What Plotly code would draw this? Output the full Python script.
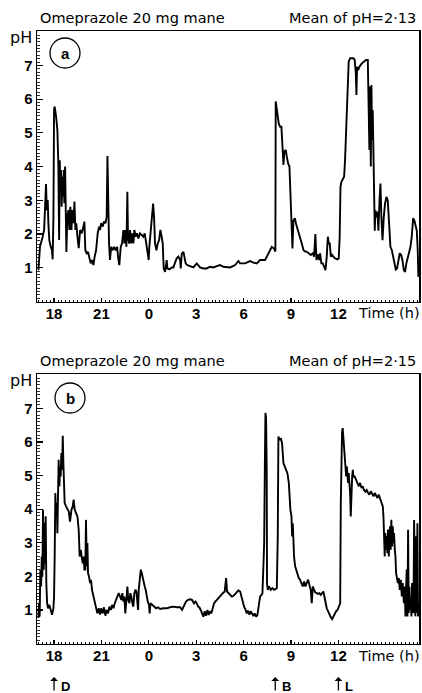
import plotly.graph_objects as go

W, H = 422, 693

# ---------------- data (time in clock hours, 24 = midnight ... 36 = noon next day) ----------------
readings_a = [
    (17.01, 0.93), (17.11, 1.63), (17.28, 1.92), (17.37, 2.12), (17.45, 3.01), (17.49, 3.48), (17.54, 2.71),
    (17.60, 3.01), (17.64, 2.32), (17.70, 1.82), (17.79, 1.62), (17.87, 1.52), (17.91, 1.25), (17.96, 2.51),
    (18.00, 5.68), (18.04, 5.78), (18.13, 5.48), (18.21, 5.08), (18.27, 4.09), (18.32, 1.82), (18.36, 4.19),
    (18.40, 3.30), (18.44, 3.90), (18.48, 2.81), (18.53, 3.70), (18.57, 3.11), (18.61, 3.90), (18.65, 2.91),
    (18.70, 4.00), (18.74, 2.12), (18.78, 1.47), (18.84, 2.51), (18.91, 2.71), (18.97, 2.12), (19.03, 2.81),
    (19.10, 2.12), (19.16, 2.71), (19.22, 2.32), (19.29, 2.96), (19.35, 2.12), (19.41, 2.32), (19.48, 1.92),
    (19.56, 1.58), (19.65, 2.12), (19.75, 2.02), (19.86, 2.22), (19.92, 2.37), (19.98, 1.52), (20.07, 1.43),
    (20.15, 1.47), (20.24, 1.23), (20.32, 1.13), (20.40, 1.23), (20.49, 1.08), (20.57, 1.33), (20.66, 1.52),
    (20.76, 2.02), (20.85, 2.22), (20.91, 2.12), (20.98, 2.32), (21.08, 2.22), (21.16, 2.37), (21.25, 2.32),
    (21.33, 2.51), (21.38, 4.31), (21.42, 2.42), (21.48, 1.72), (21.54, 1.23), (21.61, 1.62), (21.71, 1.52),
    (21.80, 1.62), (21.90, 1.52), (21.99, 1.62), (22.05, 1.33), (22.13, 1.08), (22.22, 1.62), (22.30, 1.72),
    (22.39, 2.12), (22.45, 1.72), (22.51, 2.12), (22.58, 1.62), (22.64, 3.25), (22.68, 1.92), (22.75, 1.72),
    (22.81, 2.12), (22.87, 1.72), (22.94, 2.02), (23.02, 1.72), (23.08, 2.12), (23.17, 1.92), (23.25, 2.02),
    (23.34, 1.87), (23.44, 2.02), (23.55, 1.97), (23.65, 1.92), (23.74, 2.02), (23.82, 1.72), (23.91, 1.38),
    (23.99, 1.23), (24.03, 1.62), (24.12, 2.12), (24.20, 2.51), (24.27, 2.90), (24.33, 2.51), (24.39, 1.72),
    (24.48, 1.52), (24.56, 1.72), (24.65, 1.82), (24.73, 2.12), (24.81, 1.92), (24.88, 1.72), (24.94, 0.98),
    (25.03, 0.88), (25.13, 1.23), (25.17, 0.98), (25.30, 0.95), (25.45, 1.01), (25.55, 1.01), (25.66, 1.13),
    (25.76, 1.28), (25.87, 1.33), (25.98, 1.23), (26.02, 0.98), (26.08, 1.41), (26.19, 1.47), (26.25, 1.28),
    (26.33, 1.13), (26.44, 1.08), (26.61, 1.05), (26.82, 1.01), (27.03, 1.13), (27.24, 1.01), (27.45, 0.98),
    (27.66, 0.98), (27.87, 1.03), (28.09, 1.01), (28.30, 1.05), (28.51, 1.08), (28.72, 1.03), (28.93, 1.01),
    (29.14, 1.01), (29.46, 1.08), (29.67, 1.20), (29.78, 1.13), (30.09, 1.13), (30.41, 1.20), (30.62, 1.15),
    (30.83, 1.13), (31.04, 1.23), (31.36, 1.23), (31.57, 1.43), (31.78, 1.62), (31.93, 1.57), (32.01, 1.48),
    (32.03, 5.93), (32.14, 5.58), (32.22, 5.28), (32.31, 5.18), (32.39, 5.18), (32.46, 4.59), (32.52, 4.05),
    (32.58, 4.45), (32.67, 4.49), (32.73, 4.30), (32.81, 4.10), (32.90, 4.00), (32.96, 3.30), (33.03, 2.10),
    (33.09, 1.57), (33.15, 2.40), (33.24, 2.47), (33.32, 2.30), (33.41, 2.17), (33.49, 2.00), (33.57, 1.87),
    (33.68, 1.72), (33.79, 1.52), (33.89, 1.48), (33.99, 1.48), (34.12, 1.43), (34.25, 1.38), (34.38, 1.43),
    (34.46, 1.33), (34.54, 2.00), (34.61, 1.23), (34.69, 1.40), (34.78, 1.23), (34.84, 1.43), (34.92, 1.13),
    (35.01, 1.13), (35.09, 1.01), (35.18, 0.93), (35.26, 1.33), (35.33, 1.92), (35.39, 1.72), (35.45, 1.72),
    (35.52, 1.33), (35.60, 1.38), (35.68, 1.33), (35.79, 1.28), (35.94, 1.25), (36.02, 1.28), (36.08, 1.92),
    (36.13, 3.40), (36.19, 3.55), (36.27, 3.62), (36.36, 3.70), (36.42, 4.20), (36.49, 4.98), (36.55, 5.48),
    (36.61, 6.57), (36.65, 7.11), (36.74, 7.21), (36.84, 7.21), (36.95, 7.21), (37.03, 7.16), (37.10, 6.77),
    (37.14, 6.12), (37.18, 6.96), (37.25, 6.86), (37.33, 6.96), (37.48, 7.06), (37.63, 7.11), (37.75, 7.16),
    (37.86, 7.16), (37.92, 6.07), (37.96, 4.49), (38.00, 6.37), (38.05, 4.00), (38.09, 6.42), (38.13, 4.79),
    (38.17, 5.68), (38.22, 3.90), (38.26, 3.10), (38.30, 2.10), (38.34, 2.70), (38.38, 2.50), (38.47, 2.66),
    (38.53, 2.10), (38.60, 3.00), (38.66, 3.50), (38.72, 2.50), (38.79, 1.82), (38.87, 2.50), (38.95, 2.90),
    (39.04, 3.10), (39.12, 3.00), (39.21, 2.30), (39.29, 1.62), (39.38, 1.52), (39.46, 1.33), (39.55, 1.03),
    (39.63, 0.95), (39.71, 0.98), (39.80, 1.23), (39.88, 1.43), (39.97, 1.38), (40.05, 1.23), (40.14, 0.93),
    (40.22, 0.88), (40.30, 1.13), (40.39, 1.33), (40.47, 1.52), (40.56, 1.62), (40.64, 1.92), (40.73, 2.47),
    (40.81, 2.40), (40.90, 2.20), (40.96, 2.10), (41.02, 1.52), (41.06, 0.73),
]

readings_b = [
    (17.01, 0.76), (17.05, 1.21), (17.09, 0.81), (17.13, 2.20), (17.18, 1.70), (17.22, 2.59), (17.26, 2.00),
    (17.30, 3.98), (17.35, 2.20), (17.39, 3.59), (17.43, 2.39), (17.47, 3.79), (17.51, 1.80), (17.56, 1.20),
    (17.62, 1.05), (17.70, 1.15), (17.79, 1.00), (17.87, 0.86), (17.96, 1.05), (18.00, 1.40), (18.04, 2.59),
    (18.08, 4.48), (18.13, 3.79), (18.17, 4.18), (18.21, 3.28), (18.25, 4.88), (18.29, 5.47), (18.34, 4.68),
    (18.38, 5.27), (18.42, 4.97), (18.46, 5.67), (18.51, 5.17), (18.55, 6.18), (18.59, 5.37), (18.63, 4.78),
    (18.67, 4.18), (18.76, 4.08), (18.84, 3.98), (18.93, 3.93), (19.01, 3.63), (19.10, 3.98), (19.18, 4.08),
    (19.24, 4.28), (19.31, 3.98), (19.39, 3.88), (19.48, 3.78), (19.56, 3.38), (19.62, 2.59), (19.69, 2.79),
    (19.75, 2.49), (19.81, 2.39), (19.88, 2.59), (19.92, 2.20), (19.98, 2.20), (20.02, 3.68), (20.07, 2.30),
    (20.11, 2.99), (20.15, 2.10), (20.21, 2.00), (20.28, 1.80), (20.34, 1.90), (20.40, 1.60), (20.49, 1.40),
    (20.57, 1.20), (20.66, 1.00), (20.74, 0.90), (20.83, 1.05), (20.91, 0.86), (20.98, 1.05), (21.08, 0.90),
    (21.16, 1.08), (21.25, 0.83), (21.33, 1.00), (21.42, 0.90), (21.50, 1.10), (21.59, 1.00), (21.67, 1.15),
    (21.76, 1.05), (21.84, 1.20), (21.92, 1.30), (22.01, 1.42), (22.09, 1.50), (22.18, 1.40), (22.26, 1.30),
    (22.32, 1.50), (22.39, 1.25), (22.45, 1.40), (22.51, 0.90), (22.58, 1.30), (22.64, 1.70), (22.70, 1.30),
    (22.77, 1.20), (22.83, 1.50), (22.89, 1.40), (22.96, 1.20), (23.02, 1.10), (23.08, 1.50), (23.15, 1.60),
    (23.21, 1.55), (23.27, 1.20), (23.32, 1.00), (23.36, 1.60), (23.42, 2.00), (23.49, 2.20), (23.55, 2.10),
    (23.61, 1.95), (23.67, 1.80), (23.74, 1.70), (23.80, 1.60), (23.87, 1.40), (23.93, 1.25), (24.01, 1.15),
    (24.05, 0.90), (24.10, 1.20), (24.20, 1.15), (24.33, 1.10), (24.46, 1.05), (24.58, 1.08), (24.71, 1.03),
    (24.92, 1.05), (25.13, 1.05), (25.34, 1.08), (25.55, 1.10), (25.76, 1.08), (25.98, 1.08), (26.10, 1.00),
    (26.23, 1.15), (26.35, 1.25), (26.48, 1.30), (26.61, 1.32), (26.73, 1.30), (26.86, 1.20), (26.95, 1.25),
    (27.03, 1.20), (27.12, 1.10), (27.20, 1.08), (27.28, 1.00), (27.37, 0.90), (27.45, 0.80), (27.54, 0.96),
    (27.62, 0.83), (27.71, 1.00), (27.79, 0.85), (27.87, 0.96), (27.96, 0.90), (28.04, 1.05), (28.13, 1.20),
    (28.21, 1.25), (28.30, 1.30), (28.42, 1.37), (28.55, 1.45), (28.68, 1.50), (28.80, 1.55), (28.89, 1.95),
    (28.95, 1.55), (29.06, 1.50), (29.14, 1.48), (29.25, 1.40), (29.35, 1.42), (29.46, 1.48), (29.57, 1.55),
    (29.67, 1.58), (29.78, 1.55), (29.86, 1.40), (29.94, 1.20), (30.03, 1.10), (30.11, 1.02), (30.20, 0.90),
    (30.28, 0.98), (30.37, 0.86), (30.45, 0.96), (30.54, 0.90), (30.62, 0.82), (30.70, 0.90), (30.79, 0.80),
    (30.87, 0.85), (30.96, 1.20), (31.04, 1.40), (31.13, 1.45), (31.19, 1.50), (31.25, 2.30), (31.30, 3.00),
    (31.34, 5.17), (31.38, 6.86), (31.42, 6.71), (31.46, 5.17), (31.48, 1.80), (31.53, 1.60), (31.61, 1.70),
    (31.72, 1.60), (31.82, 1.65), (31.93, 1.60), (32.01, 1.62), (32.10, 1.65), (32.16, 3.19), (32.20, 6.16),
    (32.27, 6.06), (32.35, 6.11), (32.43, 5.97), (32.52, 5.37), (32.60, 5.27), (32.69, 5.17), (32.77, 5.07),
    (32.86, 4.78), (32.90, 4.38), (32.96, 3.98), (33.03, 3.78), (33.07, 3.19), (33.11, 3.58), (33.15, 2.99),
    (33.19, 2.59), (33.26, 2.30), (33.32, 2.20), (33.41, 2.05), (33.49, 1.95), (33.57, 1.90), (33.66, 1.80),
    (33.74, 1.70), (33.83, 1.85), (33.91, 1.70), (33.99, 1.80), (34.08, 1.90), (34.16, 1.75), (34.25, 1.60),
    (34.31, 1.20), (34.38, 1.70), (34.46, 1.60), (34.54, 1.52), (34.63, 1.50), (34.71, 1.48), (34.80, 1.50),
    (34.88, 1.45), (34.97, 1.50), (35.05, 1.55), (35.11, 1.40), (35.18, 1.20), (35.26, 1.05), (35.35, 0.96),
    (35.43, 0.86), (35.51, 0.79), (35.60, 0.73), (35.68, 0.81), (35.77, 0.86), (35.85, 0.96), (35.94, 1.00),
    (36.02, 1.08), (36.11, 1.20), (36.15, 4.18), (36.19, 6.16), (36.23, 6.31), (36.27, 6.41), (36.32, 6.02),
    (36.36, 5.76), (36.40, 5.57), (36.44, 5.17), (36.49, 4.97), (36.53, 5.27), (36.57, 4.87), (36.61, 4.78),
    (36.65, 5.07), (36.70, 4.73), (36.74, 4.48), (36.78, 3.78), (36.82, 4.78), (36.87, 4.97), (36.91, 5.17),
    (36.95, 4.97), (37.03, 4.97), (37.12, 4.87), (37.20, 4.78), (37.29, 4.68), (37.37, 4.78), (37.46, 4.63),
    (37.54, 4.68), (37.62, 4.57), (37.71, 4.52), (37.79, 4.57), (37.88, 4.48), (37.96, 4.43), (38.05, 4.53),
    (38.13, 4.43), (38.22, 4.38), (38.30, 4.48), (38.38, 4.38), (38.47, 4.33), (38.55, 4.43), (38.64, 4.28),
    (38.72, 4.18), (38.81, 4.08), (38.85, 3.78), (38.89, 3.19), (38.93, 2.59), (38.97, 3.29), (39.02, 2.79),
    (39.06, 3.19), (39.10, 2.69), (39.14, 3.39), (39.19, 2.59), (39.23, 3.19), (39.27, 3.49), (39.31, 2.79),
    (39.35, 3.68), (39.40, 2.89), (39.44, 3.49), (39.48, 2.99), (39.52, 3.29), (39.57, 2.79), (39.61, 2.59),
    (39.65, 2.10), (39.69, 2.00), (39.76, 1.80), (39.82, 1.95), (39.88, 1.60), (39.95, 1.90), (40.01, 1.40),
    (40.07, 1.80), (40.14, 1.20), (40.20, 1.70), (40.24, 0.81), (40.28, 1.60), (40.32, 2.20), (40.37, 0.81),
    (40.41, 3.39), (40.45, 0.91), (40.49, 1.70), (40.54, 1.01), (40.58, 1.20), (40.62, 0.81), (40.66, 1.80),
    (40.70, 1.01), (40.75, 0.91), (40.79, 3.68), (40.83, 1.01), (40.87, 0.81), (40.91, 3.19), (40.96, 0.91),
    (41.00, 3.58), (41.04, 0.81), (41.08, 1.20),
]

time_a = [t for t, _ in readings_a]
ph_a = [p for _, p in readings_a]
time_b = [t for t, _ in readings_b]
ph_b = [p for _, p in readings_b]

hour_ticks = [18, 21, 24, 27, 30, 33, 36]
hour_labels = ["18", "21", "0", "3", "6", "9", "12"]
ph_ticks = [1, 2, 3, 4, 5, 6, 7]

panel_titles = ["Omeprazole 20 mg mane", "Omeprazole 20 mg mane"]
panel_means = ["Mean of pH=2·13", "Mean of pH=2·15"]
panel_letters = ["a", "b"]

meal_times = [18, 32, 36]
meal_labels = ["D", "B", "L"]

# ---------------- layout helpers ----------------
def px_x(x):
    return x / W

def px_y(y):
    return 1 - y / H

X_RANGE = [16.92, 41.1]
X_DOM = [px_x(37), px_x(419)]
# panel pixel boxes: (top, bottom)
PANELS = [(31.3, 301.5), (374.0, 643.6)]
Y_RANGES = [[0, 8.01], [0, 8.02]]

TITLE_FONT = dict(family="DejaVu Sans", size=14.5, color="black")
TICK_FONT = dict(family="Liberation Sans", size=15, color="black", weight="bold")

half_hours = [17 + 0.5 * i for i in range(49)]
quarter_hours = [17 + 0.25 * i for i in range(97)]
xt_text = [hour_labels[hour_ticks.index(v)] if v in hour_ticks else "" for v in half_hours]

fig = go.Figure()
fig.add_trace(go.Scatter(x=time_a, y=ph_a, mode="lines", line=dict(color="black", width=1.9),
                         xaxis="x", yaxis="y", showlegend=False, hoverinfo="skip"))
fig.add_trace(go.Scatter(x=time_b, y=ph_b, mode="lines", line=dict(color="black", width=1.9),
                         xaxis="x2", yaxis="y2", showlegend=False, hoverinfo="skip"))

axis_common = dict(showline=True, mirror=True, linecolor="black", linewidth=1.5,
                   showgrid=False, zeroline=False, ticks="inside", tickcolor="black",
                   tickfont=TICK_FONT, fixedrange=True)

layout = dict(width=W, height=H, autosize=False, margin=dict(l=0, r=0, t=0, b=0),
              paper_bgcolor="white", plot_bgcolor="white", showlegend=False)

for i, (top, bottom) in enumerate(PANELS):
    xs = "" if i == 0 else str(i + 1)
    layout["xaxis" + xs] = dict(axis_common, domain=X_DOM, range=X_RANGE,
                                anchor="y" + xs, tickmode="array",
                                tickvals=half_hours, ticktext=xt_text, ticklen=4, tickwidth=1.2,
                                ticklabelstandoff=-2,
                                minor=dict(tickvals=quarter_hours, ticklen=2, ticks="inside",
                                           tickcolor="black", tickwidth=1))
    layout["yaxis" + xs] = dict(axis_common, domain=[px_y(bottom), px_y(top)], range=Y_RANGES[i],
                                anchor="x" + xs, tickmode="array", tickvals=ph_ticks,
                                ticktext=[str(v) for v in ph_ticks], ticklen=6, tickwidth=1.2,
                                minor=dict(dtick=0.1, tick0=0, ticklen=3, ticks="inside",
                                           tickcolor="black", tickwidth=0.8))

fig.update_layout(**layout)

annotations = []
shapes = []
title_y = [18, 361]
circle_c = [(65, 53), (70, 398)]
for i, (top, bottom) in enumerate(PANELS):
    annotations.append(dict(text=panel_titles[i], xref="paper", yref="paper", x=px_x(38), y=px_y(title_y[i]),
                            xanchor="left", yanchor="middle", showarrow=False, font=TITLE_FONT))
    annotations.append(dict(text=panel_means[i], xref="paper", yref="paper", x=px_x(418), y=px_y(title_y[i]),
                            xanchor="right", yanchor="middle", showarrow=False, font=TITLE_FONT))
    annotations.append(dict(text="pH", xref="paper", yref="paper", x=px_x(34), y=px_y(top + 6),
                            xanchor="right", yanchor="middle", showarrow=False,
                            font=dict(family="DejaVu Sans", size=16, color="black")))
    annotations.append(dict(text="Time (h)", xref="paper", yref="paper", x=px_x(422), y=px_y(bottom + 12),
                            xanchor="right", yanchor="middle", showarrow=False, font=TITLE_FONT))
    cx, cy = circle_c[i]
    shapes.append(dict(type="circle", xref="paper", yref="paper", x0=px_x(cx - 15), x1=px_x(cx + 15),
                       y0=px_y(cy + 15), y1=px_y(cy - 15), line=dict(color="black", width=1.3)))
    annotations.append(dict(text=panel_letters[i], xref="paper", yref="paper", x=px_x(cx), y=px_y(cy),
                            xanchor="center", yanchor="middle", showarrow=False,
                            font=dict(family="Liberation Sans", size=15, color="black", weight="bold")))

for t, lab in zip(meal_times, meal_labels):
    annotations.append(dict(text="", xref="x2", yref="paper", x=t, y=px_y(677), ax=0, ay=15,
                            showarrow=True, arrowhead=1, arrowsize=1, arrowwidth=1.3, arrowcolor="black"))
    annotations.append(dict(text=lab, xref="x2", yref="paper", x=t, y=px_y(686), xshift=5,
                            xanchor="left", yanchor="middle", showarrow=False,
                            font=dict(family="Liberation Sans", size=13, color="black", weight="bold")))

fig.update_layout(annotations=annotations, shapes=shapes)
fig.write_html("out.html", config={"displayModeBar": False, "staticPlot": True},
               post_script=["document.body.style.margin='0';document.body.style.overflow='hidden';"])
